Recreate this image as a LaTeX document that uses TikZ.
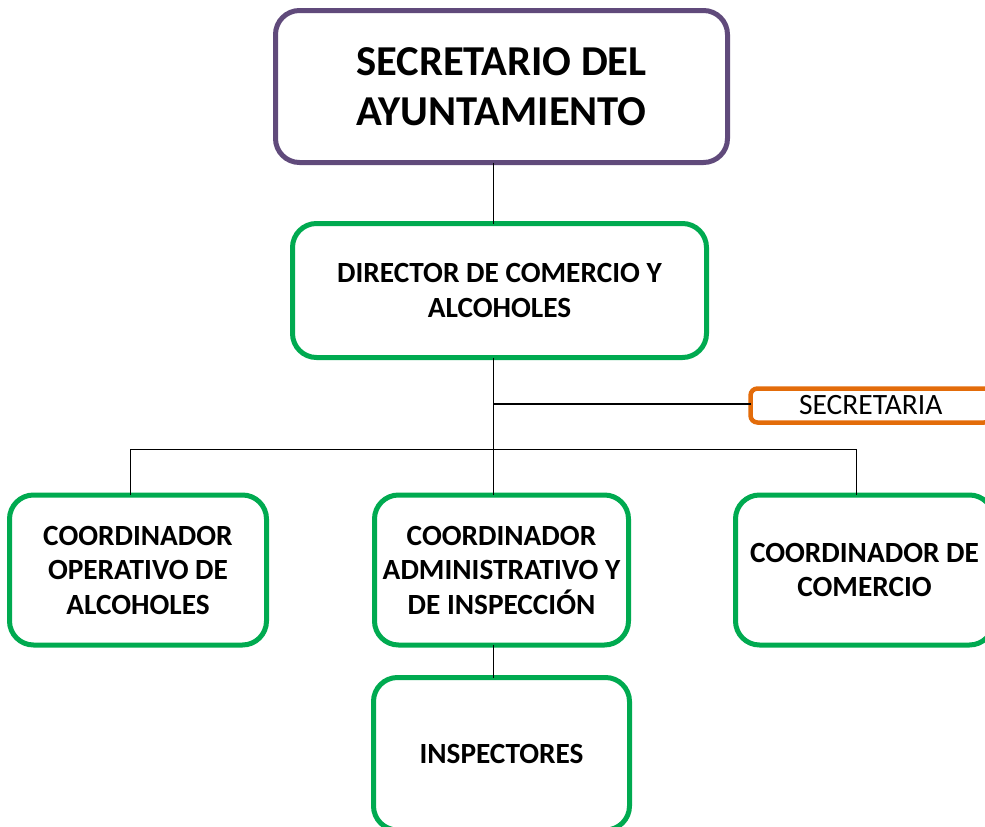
\documentclass[tikz,border=0pt]{standalone}
\usepackage{fontspec}
\setmainfont{Carlito}
\definecolor{jefe}{RGB}{96,74,123}
\definecolor{verde}{RGB}{0,170,80}
\definecolor{naranja}{RGB}{227,108,10}
\begin{document}
\begin{tikzpicture}[x=1pt,y=-1pt,
  caja/.style={draw=verde,line width=5pt,rounded corners=24pt,align=center,
    inner sep=0pt,outer sep=0pt,font=\bfseries\fontsize{29.3}{34.5}\selectfont},
  linea/.style={line width=1.3pt}]
\useasboundingbox (0,0) rectangle (985,827);
\clip (0,0) rectangle (985,827);
\node[caja,draw=jefe,minimum width=452pt,minimum height=152pt,
  font=\bfseries\fontsize{42.6}{50}\selectfont] (sec) at (501.5,86.5)
  {SECRETARIO DEL\\AYUNTAMIENTO};
\node[caja,minimum width=414pt,minimum height=134pt] (dir) at (499.5,290.5)
  {DIRECTOR DE COMERCIO Y\\ALCOHOLES};
\node[draw=naranja,line width=4.5pt,rounded corners=7pt,minimum width=240.5pt,
  minimum height=34pt,inner sep=0pt,outer sep=0pt,
  font=\fontsize{29.5}{30}\selectfont] (secr) at (870.75,405.5) {SECRETARIA};
\node[caja,minimum width=257pt,minimum height=150pt] (op) at (138,570)
  {COORDINADOR\\OPERATIVO DE\\ALCOHOLES};
\node[caja,minimum width=254pt,minimum height=150pt] (adm) at (501.5,570)
  {COORDINADOR\\ADMINISTRATIVO Y\\DE INSPECCIÓN};
\node[caja,minimum width=258pt,minimum height=150pt] (com) at (864.5,570)
  {COORDINADOR DE\\COMERCIO};
\node[caja,minimum width=256pt,minimum height=152.5pt] (insp) at (501.5,753.75)
  {INSPECTORES};
% conectores
\coordinate (eje) at (493.5,449.5);
\coordinate (rama) at (493.5,404);
\coordinate (izq) at (130.5,449.5);
\coordinate (der) at (856.5,449.5);
\draw[linea] (sec.south -| eje) -- (dir.north -| eje);
\draw[linea] (dir.south -| eje) -- (adm.north -| eje);
\draw[linea] (rama) -- (secr.west |- rama);
\draw[linea] (op.north -| izq) -- (izq) -- (der) -- (com.north -| der);
\draw[linea] (adm.south -| eje) -- (insp.north -| eje);
\end{tikzpicture}
\end{document}
